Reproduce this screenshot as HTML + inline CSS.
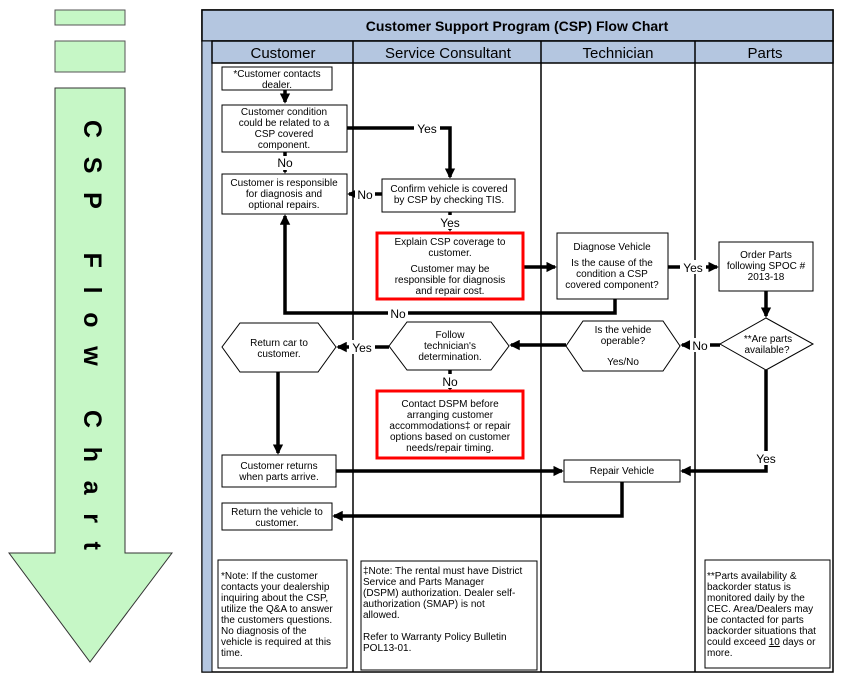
<!DOCTYPE html>
<html><head><meta charset="utf-8"><style>
html,body{margin:0;padding:0;background:#fff}
svg{display:block}
text{font-family:"Liberation Sans",Arial,sans-serif;fill:#000}
.t{font-size:10px;text-anchor:middle}
.l{font-size:10px}
.b{fill:#fff;stroke:#000;stroke-width:1}
.c{fill:none;stroke:#000;stroke-width:3.5}
</style></head><body>
<svg width="843" height="682" viewBox="0 0 843 682" xmlns="http://www.w3.org/2000/svg">
<defs><marker id="a" markerWidth="3" markerHeight="3" refX="2.5" refY="1.5" orient="auto" markerUnits="strokeWidth"><path d="M0,0 L3,1.5 L0,3 z" fill="#000"/></marker></defs>
<rect x="55" y="10" width="70" height="15" fill="#c6f7c6" stroke="#555" stroke-width="1"/>
<rect x="55" y="41" width="70" height="31" fill="#c6f7c6" stroke="#555" stroke-width="1"/>
<path d="M55,88 H125 V553 H172 L90,662 L9,553 H55 Z" fill="#c6f7c6" stroke="#333" stroke-width="1"/>
<text transform="translate(92,120) rotate(90)" style="font-size:25px;font-weight:bold" textLength="430" lengthAdjust="spacing" dominant-baseline="central">CSP Flow Chart</text>
<rect x="202" y="10" width="631" height="662" fill="#fff" stroke="#000" stroke-width="1.5"/>
<rect x="202" y="10" width="631" height="31" fill="#b4c6e0" stroke="#000" stroke-width="1.5"/>
<text x="517" y="31" style="font-size:14px;font-weight:bold" text-anchor="middle">Customer Support Program (CSP) Flow Chart</text>
<rect x="202" y="41" width="10" height="631" fill="#b4c6e0" stroke="#000" stroke-width="1"/>
<rect x="212" y="41" width="621" height="22" fill="#b4c6e0" stroke="#000" stroke-width="1.5"/>
<line x1="353" y1="41" x2="353" y2="672" stroke="#000" stroke-width="1.5"/>
<line x1="541" y1="41" x2="541" y2="672" stroke="#000" stroke-width="1.5"/>
<line x1="695" y1="41" x2="695" y2="672" stroke="#000" stroke-width="1.5"/>
<text x="283" y="58" style="font-size:15px" text-anchor="middle">Customer</text>
<text x="448" y="58" style="font-size:15px" text-anchor="middle">Service Consultant</text>
<text x="618" y="58" style="font-size:15px" text-anchor="middle">Technician</text>
<text x="765" y="58" style="font-size:15px" text-anchor="middle">Parts</text>

<path class="c" d="M285,90 V102" marker-end="url(#a)"/>
<path class="c" d="M347,128 H450 V177" marker-end="url(#a)"/>
<path class="c" d="M285,152 V172" marker-end="url(#a)"/>
<path class="c" d="M382,194 H349" marker-end="url(#a)"/>
<path class="c" d="M450,212 V230" marker-end="url(#a)"/>
<path class="c" d="M523,267 H555" marker-end="url(#a)"/>
<path class="c" d="M668,267 H717" marker-end="url(#a)"/>
<path class="c" d="M615,299 V313 H285 V216" marker-end="url(#a)"/>
<path class="c" d="M766,291 V316" marker-end="url(#a)"/>
<path class="c" d="M720,345 H682" marker-end="url(#a)"/>
<path class="c" d="M566,345 H511" marker-end="url(#a)"/>
<path class="c" d="M389,347 H338" marker-end="url(#a)"/>
<path class="c" d="M450,370 V389" marker-end="url(#a)"/>
<path class="c" d="M278,372 V453" marker-end="url(#a)"/>
<path class="c" d="M336,471 H562" marker-end="url(#a)"/>
<path class="c" d="M766,370 V471 H682" marker-end="url(#a)"/>
<path class="c" d="M622,482 V516 H334" marker-end="url(#a)"/>

<g style="font-size:12px" text-anchor="middle">
<rect x="414" y="121" width="26" height="14" fill="#fff"/><text x="427" y="133">Yes</text>
<rect x="274" y="156" width="22" height="14" fill="#fff"/><text x="285" y="167">No</text>
<rect x="355" y="187" width="20" height="14" fill="#fff"/><text x="365" y="199">No</text>
<rect x="437" y="215" width="26" height="14" fill="#fff"/><text x="450" y="227">Yes</text>
<rect x="680" y="260" width="26" height="14" fill="#fff"/><text x="693" y="272">Yes</text>
<rect x="388" y="306" width="20" height="14" fill="#fff"/><text x="398" y="318">No</text>
<rect x="690" y="338" width="20" height="14" fill="#fff"/><text x="700" y="350">No</text>
<rect x="349" y="340" width="26" height="14" fill="#fff"/><text x="362" y="352">Yes</text>
<rect x="440" y="374" width="20" height="14" fill="#fff"/><text x="450" y="386">No</text>
<rect x="753" y="451" width="26" height="14" fill="#fff"/><text x="766" y="463">Yes</text>
</g>

<rect class="b" x="222" y="67" width="110" height="23"/>
<text class="t" x="277" y="77">*Customer contacts</text><text class="t" x="277" y="88">dealer.</text>
<rect class="b" x="222" y="105" width="125" height="47"/>
<text class="t" x="284" y="115">Customer condition</text><text class="t" x="284" y="126">could be related to a</text><text class="t" x="284" y="137">CSP covered</text><text class="t" x="284" y="148">component.</text>
<rect class="b" x="222" y="174" width="125" height="40"/>
<text class="t" x="284" y="186">Customer is responsible</text><text class="t" x="284" y="197">for diagnosis and</text><text class="t" x="284" y="208">optional repairs.</text>
<rect class="b" x="382" y="179" width="133" height="33"/>
<text class="t" x="449" y="192">Confirm vehicle is covered</text><text class="t" x="449" y="203">by CSP by checking TIS.</text>
<rect x="377" y="233" width="146" height="66" fill="#fff" stroke="#f00" stroke-width="3"/>
<text class="t" x="450" y="245">Explain CSP coverage to</text><text class="t" x="450" y="256">customer.</text><text class="t" x="450" y="272">Customer may be</text><text class="t" x="450" y="283">responsible for diagnosis</text><text class="t" x="450" y="294">and repair cost.</text>
<rect class="b" x="557" y="233" width="111" height="66"/>
<text class="t" x="612" y="250">Diagnose Vehicle</text><text class="t" x="612" y="266">Is the cause of the</text><text class="t" x="612" y="277">condition a CSP</text><text class="t" x="612" y="288">covered component?</text>
<rect class="b" x="719" y="242" width="94" height="49"/>
<text class="t" x="766" y="258">Order Parts</text><text class="t" x="766" y="269">following SPOC #</text><text class="t" x="766" y="280">2013-18</text>
<polygon class="b" points="766,318 813,344 766,370 720,344"/>
<text class="t" x="768" y="342">**Are parts</text><text class="t" x="767" y="353">available?</text>
<polygon class="b" points="583,321 663,321 680,346 663,371 583,371 566,346"/>
<text class="t" x="623" y="333">Is the vehide</text><text class="t" x="623" y="344">operable?</text><text class="t" x="623" y="365">Yes/No</text>
<polygon class="b" points="407,322 491,322 509,346 491,370 407,370 389,346"/>
<text class="t" x="450" y="338">Follow</text><text class="t" x="450" y="349">technician's</text><text class="t" x="450" y="360">determination.</text>
<polygon class="b" points="240,323 318,323 336,347 318,372 240,372 222,347"/>
<text class="t" x="279" y="346">Return car to</text><text class="t" x="279" y="357">customer.</text>
<rect x="377" y="391" width="146" height="67" fill="#fff" stroke="#f00" stroke-width="3"/>
<text class="t" x="450" y="407">Contact DSPM before</text><text class="t" x="450" y="418">arranging customer</text><text class="t" x="450" y="429">accommodations‡ or repair</text><text class="t" x="450" y="440">options based on customer</text><text class="t" x="450" y="451">needs/repair timing.</text>
<rect class="b" x="222" y="455" width="114" height="32"/>
<text class="t" x="279" y="469">Customer returns</text><text class="t" x="279" y="480">when parts arrive.</text>
<rect class="b" x="564" y="460" width="116" height="22"/>
<text class="t" x="622" y="474">Repair Vehicle</text>
<rect class="b" x="222" y="503" width="110" height="27"/>
<text class="t" x="277" y="515">Return the vehicle to</text><text class="t" x="277" y="526">customer.</text>

<rect class="b" x="218" y="560" width="129" height="108"/>
<g class="l"><text x="221" y="579">*Note: If the customer</text><text x="221" y="590">contacts your dealership</text><text x="221" y="601">inquiring about the CSP,</text><text x="221" y="612">utilize the Q&amp;A to answer</text><text x="221" y="623">the customers questions.</text><text x="221" y="634">No diagnosis of the</text><text x="221" y="645">vehicle is required at this</text><text x="221" y="656">time.</text></g>
<rect class="b" x="361" y="561" width="176" height="109"/>
<g class="l"><text x="363" y="574">‡Note: The rental must have District</text><text x="363" y="585">Service and Parts Manager</text><text x="363" y="596">(DSPM) authorization.  Dealer self-</text><text x="363" y="607">authorization (SMAP) is not</text><text x="363" y="618">allowed.</text><text x="363" y="640">Refer to Warranty Policy Bulletin</text><text x="363" y="651">POL13-01.</text></g>
<rect class="b" x="705" y="560" width="125" height="108"/>
<g class="l"><text x="707" y="579">**Parts availability &amp;</text><text x="707" y="590">backorder status is</text><text x="707" y="601">monitored daily by the</text><text x="707" y="612">CEC. Area/Dealers may</text><text x="707" y="623">be contacted for parts</text><text x="707" y="634">backorder situations that</text><text x="707" y="645">could exceed <tspan text-decoration="underline">10</tspan> days or</text><text x="707" y="656">more.</text></g>
</svg>
</body></html>
